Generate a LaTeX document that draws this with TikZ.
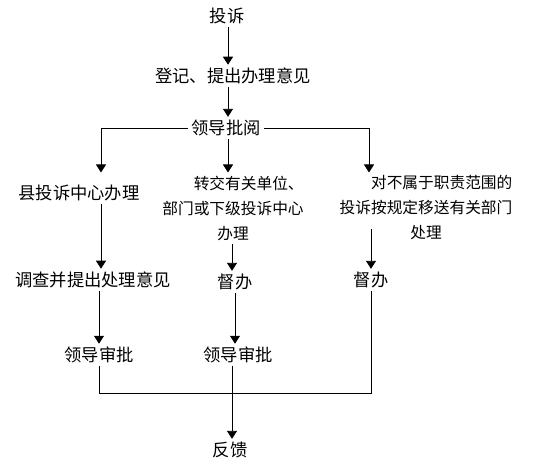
\documentclass[tikz,border=0pt]{standalone}
\usepackage{fontspec}
\setmainfont{Noto Sans CJK SC}
\usepackage{tikz}
\usetikzlibrary{arrows.meta,calc}
\tikzset{
  lbl/.style    = {font=\fontsize{17.3}{21}\selectfont, inner sep=3pt},
  lblbox/.style = {font=\fontsize{15.7}{25}\selectfont, align=center, inner sep=3pt},
  arr/.style    = {-{Triangle[length=8pt,width=10pt]}, line width=0.9pt},
  ln/.style     = {line width=0.9pt},
}

\begin{document}
\begin{tikzpicture}[x=1pt,y=-1pt]
  \useasboundingbox (0,0) rectangle (554,467);
  \coordinate (cL) at (101,0);
  \coordinate (cM) at (228,0);
  \coordinate (cR) at (369,0);
  \coordinate (join) at (232,393);

  \node[lbl] (comp)   at (227,16)  {投诉};
  \node[lbl] (reg)    at (233,76)  {登记、提出办理意见};
  \node[lbl] (lead)   at (226,128) {领导批阅};
  \node[lbl] (county) at (79,193)  {县投诉中心办理};
  \node[lblbox] (mid) at (233,208) {\hspace*{2em}转交有关单位、\\部门或下级投诉中心\\办理};
  \node[lblbox] (rbox) at (426,208) {\hspace*{2em}对不属于职责范围的\\投诉按规定移送有关部门\\处理};
  \node[lbl] (inv)    at (93,280)  {调查并提出处理意见};
  \node[lbl] (supM)   at (235,282) {督办};
  \node[lbl] (supR)   at (371,280) {督办};
  \node[lbl] (apprL)  at (99,355)  {领导审批};
  \node[lbl] (apprM)  at (238,355) {领导审批};
  \node[lbl] (fb)     at (230,450) {反馈};

  \draw[arr] (comp.south -| cM) -- (reg.north -| cM);
  \draw[arr] (reg.south -| cM)  -- (lead.north -| cM);
  \draw[arr] (lead.west) -| (cL |- mid.north);
  \draw[arr] (lead.east) -| (cR |- mid.north);
  \draw[arr] (lead.south -| cM) -- (mid.north -| cM);

  \draw[arr] (county.south -| cL) -- (inv.north -| cL);
  \draw[arr] (mid.south -| join) -- (supM.north -| join);
  \draw[arr] ([yshift=14pt]rbox.south -| supR) -- (supR.north);

  \draw[arr] (inv.south -| apprL) -- (apprL.north);
  \draw[arr] (supM.south) -- (supM.south |- apprM.north);

  \draw[ln] (apprL.south) |- (join) -| (supR.south);
  \draw[arr] (apprM.south -| join) -- (fb.north -| join);
\end{tikzpicture}
\end{document}
